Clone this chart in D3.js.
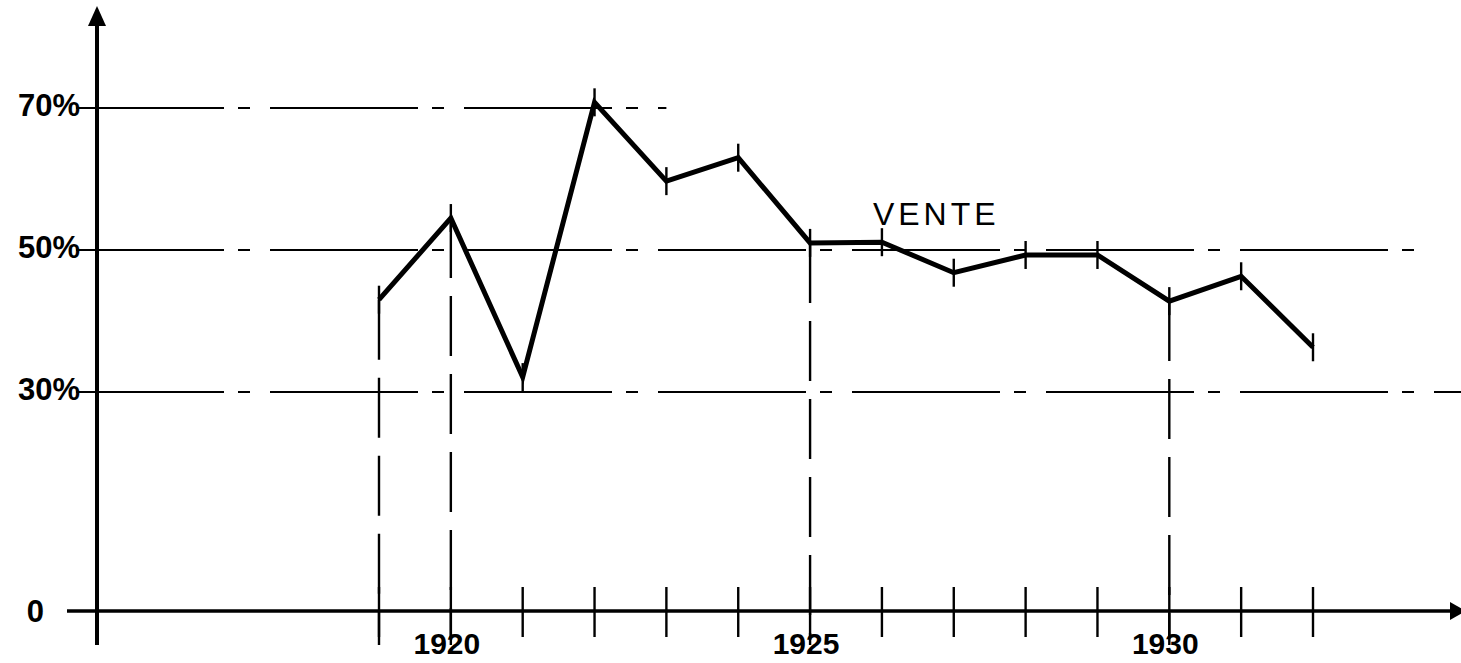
<!DOCTYPE html>
<html><head><meta charset="utf-8">
<script src="https://cdn.jsdelivr.net/npm/d3@7"></script>
<style>html,body{margin:0;padding:0;background:#fff;overflow:hidden}</style>
</head><body><svg id="c" width="1461" height="663"></svg>
<script>
// ---- data ----
const years = [1919,1920,1921,1922,1923,1924,1925,1926,1927,1928,1929,1930,1931,1932];
const vente = [43.0,54.5,32.1,70.8,59.7,63.0,51.0,51.1,46.8,49.3,49.3,42.8,46.3,36.3];
const yTicks = [0,30,50,70];
const yTickLabels = ["0","30%","50%","70%"];
const gridLevels = [30,50,70];
const gridEndYears = [1934.7,1933.5,1923];
const dropYears = [1919,1920,1925,1930];
const yearLabels = [1920,1925,1930];
const seriesLabel = "VENTE";

// ---- scales ----
const x = d3.scaleLinear().domain([1919,1932]).range([379,1313]);
const y = d3.scaleLinear().domain([0,30,70]).range([611,392,108]);
const axisX = 97, axisY = y(0);

const svg = d3.select("#c");
const ink = "#000";

// gridlines (dash-dot)
svg.append("g").selectAll("line").data(gridLevels).join("line")
  .attr("x1", 76).attr("x2", (d,i)=>x(gridEndYears[i]))
  .attr("y1", d=>y(d)).attr("y2", d=>y(d))
  .attr("stroke", ink).attr("stroke-width", 1.9)
  .attr("stroke-dasharray", "148,14,12,20");

// drop lines
svg.append("g").selectAll("line").data(dropYears).join("line")
  .attr("x1", d=>x(d)).attr("x2", d=>x(d))
  .attr("y1", d=>y(vente[years.indexOf(d)])).attr("y2", 645)
  .attr("stroke", ink).attr("stroke-width", 2.4)
  .attr("stroke-dasharray", "60,18");

// axes
svg.append("line").attr("x1", axisX).attr("x2", axisX).attr("y1", 645).attr("y2", 20)
  .attr("stroke", ink).attr("stroke-width", 4);
svg.append("path").attr("d", `M${axisX},6 L${axisX-9},26 L${axisX+9},26 Z`).attr("fill", ink);
svg.append("line").attr("x1", 67).attr("x2", 1452).attr("y1", axisY).attr("y2", axisY)
  .attr("stroke", ink).attr("stroke-width", 3.5);
svg.append("path").attr("d", `M1466,${axisY} L1450,${axisY-9} L1450,${axisY+9} Z`).attr("fill", ink);

// x-axis ticks
svg.append("g").selectAll("line").data(years).join("line")
  .attr("x1", d=>x(d)).attr("x2", d=>x(d))
  .attr("y1", axisY-24).attr("y2", axisY+26)
  .attr("stroke", ink).attr("stroke-width", 2.4);

// year labels
svg.append("g").selectAll("text").data(yearLabels).join("text")
  .attr("x", d=>x(d)-4).attr("y", 654)
  .attr("text-anchor", "middle")
  .attr("font-family", "Liberation Sans, Arial, sans-serif")
  .attr("font-weight", "bold").attr("font-size", 30)
  .text(d=>d);

// y labels
svg.append("g").selectAll("text").data(yTicks).join("text")
  .attr("x", (d)=> d===0 ? 44 : 80)
  .attr("y", d=> d===0 ? y(d)+11 : y(d)+8)
  .attr("text-anchor", "end")
  .attr("font-family", "Liberation Sans, Arial, sans-serif")
  .attr("font-weight", "bold").attr("font-size", 31)
  .text((d,i)=>yTickLabels[i]);

// series line
const pts = years.map((yr,i)=>[yr, vente[i]]);
svg.append("path").datum(pts)
  .attr("d", d3.line().x(d=>x(d[0])).y(d=>y(d[1])))
  .attr("fill", "none").attr("stroke", ink).attr("stroke-width", 5)
  .attr("stroke-linejoin", "miter");

// point ticks
svg.append("g").selectAll("line").data(pts).join("line")
  .attr("x1", d=>x(d[0])).attr("x2", d=>x(d[0]))
  .attr("y1", d=>y(d[1])-14).attr("y2", d=>y(d[1])+14)
  .attr("stroke", ink).attr("stroke-width", 2.4);

// series label
svg.append("text")
  .attr("x", x(1926)-9).attr("y", y(vente[7])-17)
  .attr("font-family", "Liberation Sans, Arial, sans-serif")
  .attr("font-size", 32).attr("letter-spacing", 4)
  .text(seriesLabel);
</script></body></html>
